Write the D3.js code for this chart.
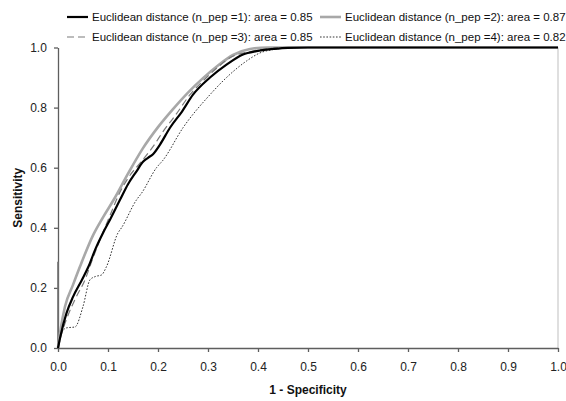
<!DOCTYPE html>
<html><head><meta charset="utf-8">
<script src="https://cdn.jsdelivr.net/npm/d3@7/dist/d3.min.js"></script>
<style>body{margin:0;background:#fff}svg{display:block}text{font-family:"Liberation Sans",Arial,sans-serif}</style>
</head><body><svg id="c" width="566" height="401"></svg>
<script>
const xTicks = [0,0.1,0.2,0.3,0.4,0.5,0.6,0.7,0.8,0.9,1.0];
const yTicks = [0,0.2,0.4,0.6,0.8,1.0];
const seriesNames = ["Euclidean distance (n_pep =1): area = 0.85","Euclidean distance (n_pep =2): area = 0.87","Euclidean distance (n_pep =3): area = 0.85","Euclidean distance (n_pep =4): area = 0.82"];
const fpr1 = [0,0.005,0.017,0.03,0.048,0.061,0.075,0.09,0.105,0.124,0.14,0.157,0.17,0.18,0.19,0.204,0.224,0.248,0.27,0.304,0.337,0.37,0.397,0.43,0.46,0.5,1.0];
const sens1 = [0,0.04,0.116,0.17,0.227,0.271,0.33,0.383,0.43,0.493,0.545,0.588,0.62,0.633,0.645,0.677,0.733,0.787,0.843,0.9,0.943,0.977,0.988,0.995,0.999,1.0,1.0];
const fpr2 = [0,0.005,0.014,0.03,0.044,0.07,0.09,0.112,0.14,0.17,0.2,0.23,0.26,0.29,0.32,0.35,0.384,0.42,1.0];
const sens2 = [0,0.06,0.138,0.21,0.271,0.375,0.435,0.495,0.58,0.665,0.735,0.795,0.85,0.898,0.94,0.975,0.995,1.0,1.0];
const fpr3 = [0,0.006,0.018,0.035,0.054,0.07,0.09,0.105,0.12,0.14,0.167,0.19,0.21,0.235,0.264,0.297,0.32,0.344,0.38,0.42,0.45,1.0];
const sens3 = [0,0.04,0.1,0.165,0.227,0.3,0.385,0.445,0.505,0.565,0.621,0.67,0.72,0.775,0.843,0.9,0.935,0.966,0.985,0.996,1.0,1.0];
const fpr4 = [0,0.007,0.017,0.034,0.05,0.064,0.075,0.087,0.097,0.12,0.127,0.157,0.167,0.197,0.21,0.25,0.304,0.337,0.377,0.404,0.43,0.46,0.5,1.0];
const sens4 = [0,0.05,0.067,0.07,0.138,0.227,0.238,0.243,0.271,0.383,0.4,0.493,0.515,0.6,0.625,0.733,0.843,0.9,0.955,0.982,0.993,0.999,1.0,1.0];
const stubX = [0,0];
const stubY = [0,0.287];

const svg = d3.select("#c");
const m = {l:58, t:47.5, r:8, b:53};
const W = 566, H = 401;
const x = d3.scaleLinear().domain([0,1]).range([m.l, W-m.r]);
const y = d3.scaleLinear().domain([0,1]).range([H-m.b, m.t]);

svg.append("line").attr("x1",x(1)).attr("x2",x(1)).attr("y1",y(0)).attr("y2",y(1))
  .attr("stroke","#d4d4d4").attr("stroke-width",1.5);

const xAxis = svg.append("g").attr("transform",`translate(0,${y(0)})`)
  .call(d3.axisBottom(x).tickValues(xTicks).tickFormat(d3.format(".1f")).tickSize(4).tickSizeOuter(0));
const yAxis = svg.append("g").attr("transform",`translate(${x(0)},0)`)
  .call(d3.axisLeft(y).tickValues(yTicks).tickFormat(d3.format(".1f")).tickSize(4).tickSizeOuter(0));
[xAxis,yAxis].forEach(a=>{
  a.selectAll("path,line").attr("stroke","#5e5e5e").attr("stroke-width",1.3);
  a.selectAll("text").attr("font-size",12).attr("fill","#222").attr("font-family","Liberation Sans, Arial, sans-serif");
});
xAxis.selectAll("text").attr("dy","1.35em");
yAxis.selectAll("text").attr("dx","-0.35em");

const line = d3.line().x(d=>x(d[0])).y(d=>y(d[1])).curve(d3.curveMonotoneX);
const zip = (a,b)=>a.map((v,i)=>[v,b[i]]);

svg.append("path").datum(zip(stubX,stubY)).attr("d",d3.line().x(d=>x(d[0])).y(d=>y(d[1]))).attr("fill","none")
  .attr("stroke","#707070").attr("stroke-width",1.6);

const styles = [
  {stroke:"#000", w:2.2, dash:null},
  {stroke:"#a8a8a8", w:2.6, dash:null},
  {stroke:"#7a7a7a", w:1.2, dash:"7,4"},
  {stroke:"#333", w:1, dash:"1.6,1.6"}
];
const data = [zip(fpr1,sens1), zip(fpr2,sens2), zip(fpr3,sens3), zip(fpr4,sens4)];
[1,3,2,0].forEach(i=>{
  const p = svg.append("path").datum(data[i]).attr("d",line).attr("fill","none")
    .attr("stroke",styles[i].stroke).attr("stroke-width",styles[i].w).attr("stroke-linejoin","round");
  if(styles[i].dash) p.attr("stroke-dasharray",styles[i].dash);
});

const legPos = [[67,17],[320,17],[67,37],[320,37]];
seriesNames.forEach((n,i)=>{
  const [lx,ly] = legPos[i];
  const l = svg.append("line").attr("x1",lx).attr("x2",lx+21).attr("y1",ly).attr("y2",ly)
    .attr("stroke",styles[i].stroke).attr("stroke-width",styles[i].w);
  if(styles[i].dash) l.attr("stroke-dasharray",styles[i].dash);
  svg.append("text").attr("x",lx+25).attr("y",ly).attr("dy","0.35em")
    .attr("font-size",11.5).attr("fill","#111").text(n);
});

svg.append("text").attr("x",(x(0)+x(1))/2).attr("y",394).attr("text-anchor","middle")
  .attr("font-size",12).attr("font-weight","bold").attr("fill","#111").text("1 - Specificity");
svg.append("text").attr("transform",`translate(22,${(y(0)+y(1))/2}) rotate(-90)`).attr("text-anchor","middle")
  .attr("font-size",12).attr("font-weight","bold").attr("fill","#111").text("Sensitivity");
</script></body></html>
